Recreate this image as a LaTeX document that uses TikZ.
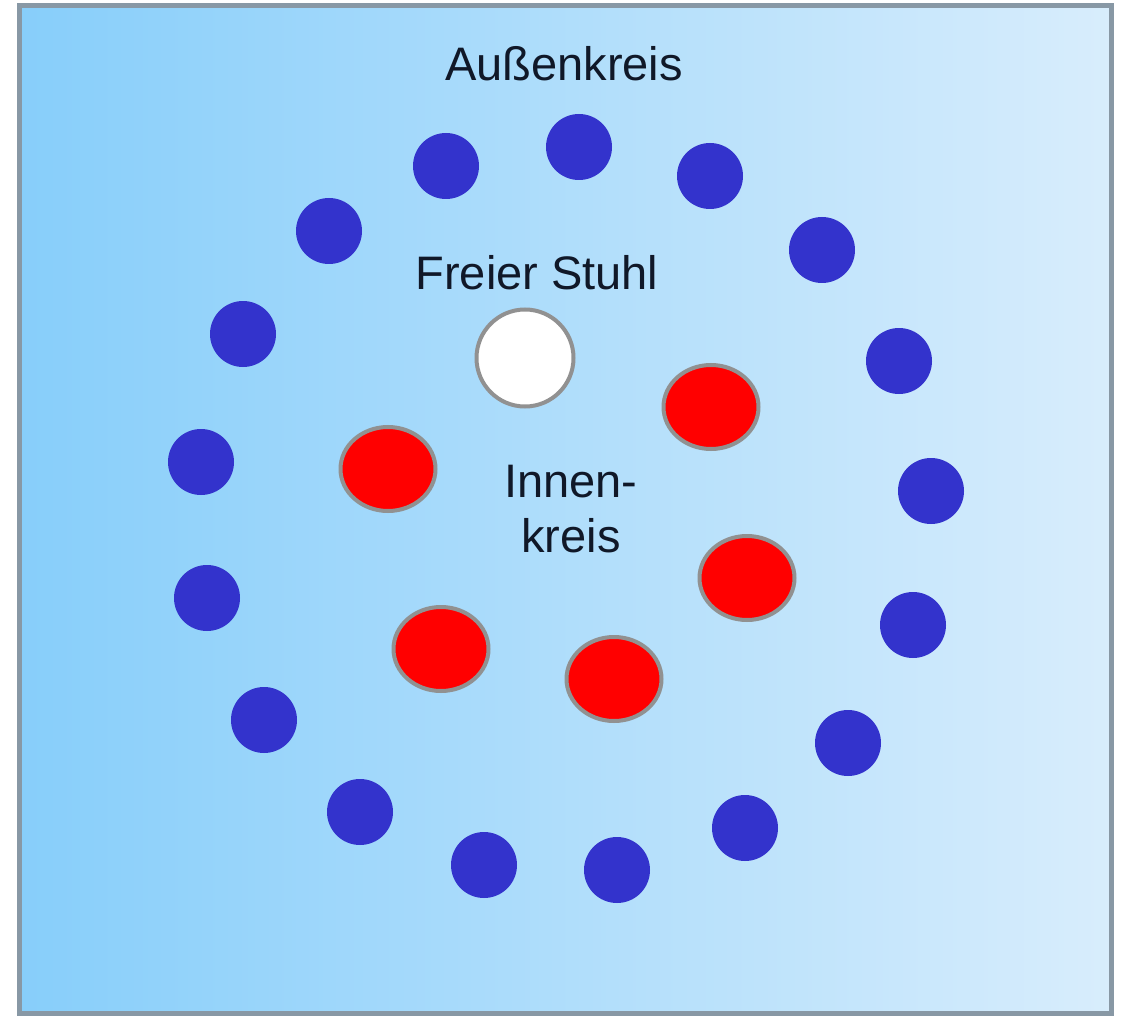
\documentclass[tikz,border=0pt]{standalone}
\usepackage{fontspec}
\setmainfont{Liberation Sans}
\usetikzlibrary{shapes.geometric}
\definecolor{skyleft}{RGB}{135,206,250}
\definecolor{skyright}{RGB}{216,237,252}
\definecolor{framegray}{RGB}{136,152,165}
\definecolor{chairblue}{RGB}{51,51,204}
\definecolor{rimgray}{RGB}{145,145,145}
\definecolor{labelink}{RGB}{16,24,40}
\tikzset{
  outerchair/.style={circle, fill=chairblue, minimum size=66pt, inner sep=0pt},
  innerchair/.style={ellipse, fill=red, draw=rimgray, line width=4pt,
    minimum width=95pt, minimum height=84pt, inner sep=0pt},
  freechair/.style={circle, fill=white, draw=rimgray, line width=4pt,
    minimum size=97pt, inner sep=0pt},
  kreistext/.style={anchor=base, text=labelink, inner sep=0pt,
    font=\fontsize{47}{55}\selectfont}
}

\begin{document}
\begin{tikzpicture}[x=1pt, y=-1pt]
    \useasboundingbox (0,0) rectangle (1124,1016);
    \shade[left color=skyleft, right color=skyright] (19,6) rectangle (1111,1013);
    \draw[framegray, line width=5pt] (19,6) rectangle (1111,1013);

    % Aussenkreis
    \node[outerchair] (O1) at (446,166) {};
    \node[outerchair] (O2) at (579,147) {};
    \node[outerchair] (O3) at (710,176) {};
    \node[outerchair] (O4) at (822,250) {};
    \node[outerchair] (O5) at (899,361) {};
    \node[outerchair] (O6) at (931,491) {};
    \node[outerchair] (O7) at (913,625) {};
    \node[outerchair] (O8) at (848,743) {};
    \node[outerchair] (O9) at (745,828) {};
    \node[outerchair] (O10) at (617,870) {};
    \node[outerchair] (O11) at (484,865) {};
    \node[outerchair] (O12) at (360,812) {};
    \node[outerchair] (O13) at (264,720) {};
    \node[outerchair] (O14) at (207,598) {};
    \node[outerchair] (O15) at (201,462) {};
    \node[outerchair] (O16) at (243,334) {};
    \node[outerchair] (O17) at (329,231) {};

    % Innenkreis
    \node[innerchair] (I1) at (388,469) {};
    \node[innerchair] (I2) at (711,407) {};
    \node[innerchair] (I3) at (747,578) {};
    \node[innerchair] (I4) at (441,649) {};
    \node[innerchair] (I5) at (614,679) {};
    \node[freechair] (Free) at (525,358) {};

    \node[kreistext] (OuterLabel) at (564,81) {Außenkreis};
    \node[kreistext] (FreeLabel) at (537,290) {Freier Stuhl};
    \node[kreistext] (InnerLabelA) at (571,497) {Innen-};
    \node[kreistext] (InnerLabelB) at (571,552) {kreis};
\end{tikzpicture}
\end{document}
